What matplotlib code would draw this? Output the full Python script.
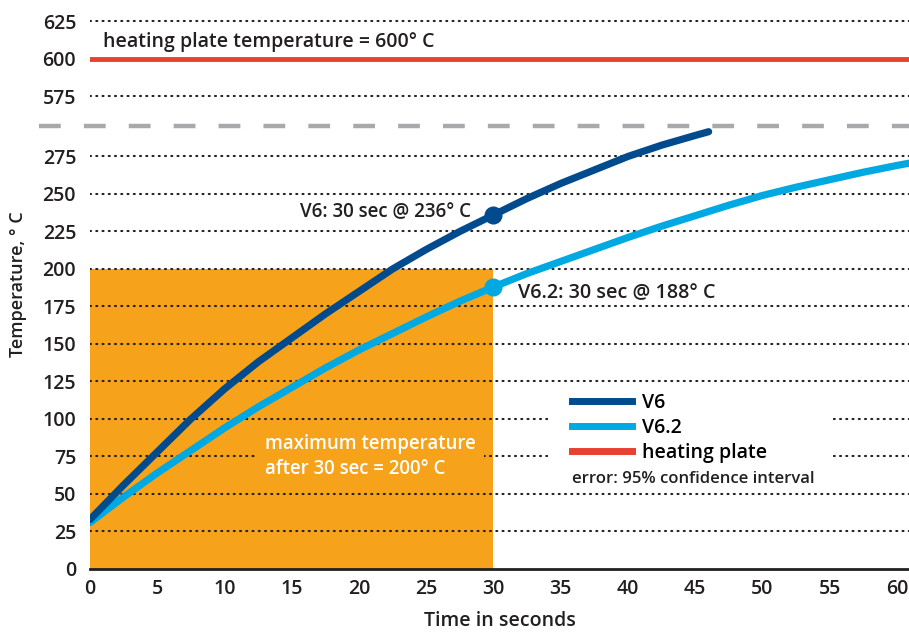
import numpy as np
import matplotlib as mpl
mpl.use('Agg')
import matplotlib.pyplot as plt
from matplotlib.lines import Line2D
from matplotlib.patches import Rectangle

plt.rcParams['font.family'] = ['Open Sans', 'DejaVu Sans']
plt.rcParams['font.weight'] = 'semibold'
plt.rcParams['axes.labelweight'] = 'semibold'

# data
v6_t = [0, 2.5, 5, 7.5, 10, 12.5, 15, 17.5, 20, 22.5, 25, 27.5, 30,
        32.5, 35, 37.5, 40, 42.5, 45, 46]
v6_temp = [33, 56, 78, 100, 120, 138, 154, 170, 185, 200, 213, 225, 236,
           247, 257, 266, 275, 282.5, 289, 291.5]
v62_t = [0, 2.5, 5, 7.5, 10, 12.5, 15, 17.5, 20, 22.5, 25, 27.5, 30,
         32.5, 35, 37.5, 40, 42.5, 45, 47.5, 50, 52.5, 55, 57.5, 60, 60.9]
v62_temp = [31, 48, 64, 79, 94, 108, 121, 134, 146, 157, 168, 178.5, 188,
            197, 205, 213, 221, 228.5, 235.5, 242.5, 249, 254.5, 259.5,
            264.5, 269, 270.5]
plate_temp = 600
max_temp = 200
max_time = 30
v6_at30 = 236
v62_at30 = 188
low_ticks = list(range(0, 300, 25))
high_ticks = [575, 600, 625]
x_ticks = list(range(0, 65, 5))

# broken axis: everything above the break is shifted down
BREAK_SHIFT = 260
BREAK_AT = 295

def brk(v):
    v = np.asarray(v, dtype=float)
    return np.where(v > 300, v - BREAK_SHIFT, v)

DARK = '#004b8d'
LIGHT = '#00a9e2'
RED = '#e8412f'
ORANGE = '#f6a31b'
TXT = '#231f20'

fig = plt.figure(figsize=(9.09, 6.34), dpi=100)
ax = fig.add_axes([90 / 909, 65 / 634, 819 / 909, 569 / 634])
ax.set_xlim(0, 60.9)
ax.set_ylim(0, 379.3)

for s in ['top', 'right', 'left']:
    ax.spines[s].set_visible(False)
ax.spines['bottom'].set_color(TXT)
ax.spines['bottom'].set_linewidth(2)
ax.spines['bottom'].set_zorder(6)

# orange box
ax.add_patch(Rectangle((0, 0), max_time, max_temp, facecolor=ORANGE,
                       edgecolor='none', zorder=1))

# dotted grid
yt = list(low_ticks) + list(high_ticks)
for y in yt:
    if y == 0:
        continue
    ax.axhline(float(brk(y)), color=TXT, lw=1.5, ls=(0, (0.5, 2.5)),
               dash_capstyle='round', zorder=2)

# break line
ax.axhline(BREAK_AT, xmin=-0.062, xmax=1, color='#a7a9ac', lw=3.2,
           ls=(0, (4.9, 5.2)), clip_on=False, zorder=2)

# heating plate
ax.axhline(float(brk(plate_temp)), color=RED, lw=3.5, zorder=3)
ax.text(1, float(brk(plate_temp)) + 11, 'heating plate temperature = 600° C',
        fontsize=14, color=TXT, va='center', ha='left')

# curves
ax.plot(v62_t, v62_temp, color=LIGHT, lw=5.2, solid_capstyle='round',
        solid_joinstyle='round', zorder=4)
ax.plot(v6_t, v6_temp, color=DARK, lw=5.2, solid_capstyle='round',
        solid_joinstyle='round', zorder=5)
ax.plot([max_time], [v6_at30], 'o', color=DARK, ms=12, zorder=5)
ax.plot([max_time], [v62_at30], 'o', color=LIGHT, ms=12, zorder=4)

ax.text(max_time - 1.7, 238, 'V6: 30 sec @ 236° C', fontsize=13.5,
        color=TXT, ha='right', va='center', zorder=6)
ax.text(max_time + 1.8, 184, 'V6.2: 30 sec @ 188° C', fontsize=14.2,
        color=TXT, ha='left', va='center', zorder=6)

ax.text(13.0, 75, 'maximum temperature\nafter 30 sec = 200° C', fontsize=13.4,
        color='white', ha='left', va='center', linespacing=1.3, zorder=3,
        bbox=dict(facecolor=ORANGE, edgecolor='none', pad=6))

# legend on a white patch that cuts the grid
ax.add_patch(Rectangle((0.559, 0.139), 0.348, 0.178, transform=ax.transAxes,
                       facecolor='white', edgecolor='none', zorder=3))
handles = [Line2D([], [], color=DARK, lw=5),
           Line2D([], [], color=LIGHT, lw=5),
           Line2D([], [], color=RED, lw=5)]
leg = ax.legend(handles, ['V6', 'V6.2', 'heating plate'],
                loc='upper left', bbox_to_anchor=(0.5885, 0.3100),
                frameon=False, fontsize=14,
                handlelength=3.1, handletextpad=0.5, labelspacing=0.27,
                borderpad=0, borderaxespad=0)
leg.set_zorder(7)
ax.text(0.5885, 0.158, 'error: 95% confidence interval', transform=ax.transAxes,
        fontsize=12, color=TXT, ha='left', va='center', zorder=8)

# ticks
ax.set_yticks(brk(yt), [str(v) for v in yt])
ax.set_xticks(x_ticks, [str(v) for v in x_ticks])
ax.tick_params(axis='y', length=0, pad=10, labelsize=14, labelcolor=TXT)
ax.tick_params(axis='x', length=0, pad=7, labelsize=14, labelcolor=TXT)

ax.set_xlabel('Time in seconds', fontsize=14, color=TXT)
ax.xaxis.set_label_coords(0.5, -0.0914)
ax.xaxis.label.set_va('center')
ax.set_ylabel('Temperature, ° C', fontsize=13, color=TXT)
ax.yaxis.set_label_coords(-0.088, 0.5)
ax.yaxis.label.set_va('center')

fig.savefig('out.png', dpi=100)
